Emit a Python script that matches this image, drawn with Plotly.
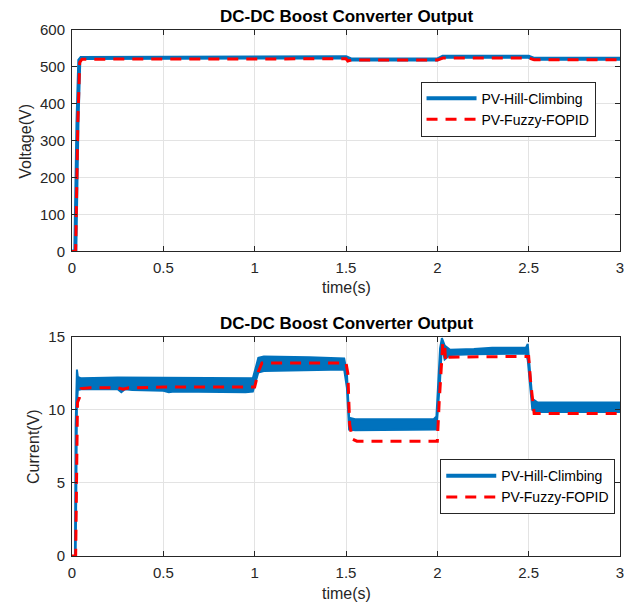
import plotly.graph_objects as go

# ---------------- data ----------------
# Voltage (top panel)
t_volt_hill = [0, 0.018, 0.03, 0.04, 0.05, 1.0, 1.03, 1.5, 1.53, 2.0, 2.03, 2.5, 2.53, 3.0]
volt_hill = [0, 0, 350, 518, 524, 524, 526, 526, 520, 520, 527.5, 527.5, 522, 522]

t_volt_fuzzy = [0, 0.02, 0.032, 0.042, 0.055, 1.0, 1.03, 1.5, 1.51, 1.53, 2.0, 2.03, 2.5, 2.53, 3.0]
volt_fuzzy = [0, 0, 350, 512, 521, 521, 522, 522, 516, 518.5, 518.5, 524, 524, 519.5, 519.5]

# Current (bottom panel) - Hill-Climbing ripple band (upper / lower envelope)
t_cur_hill = [0, 0.016, 0.02, 0.024, 0.027, 0.032, 0.05, 0.25, 0.27, 0.29, 0.33, 0.5, 0.53, 0.56,
              0.95, 0.99, 1.02, 1.05, 1.3, 1.49, 1.505, 1.517, 1.55, 1.98, 1.995, 2.015, 2.025,
              2.04, 2.07, 2.2, 2.3, 2.485, 2.495, 2.51, 2.52, 2.55, 3.0]
cur_hill_upper = [0, 0, 9.0, 12.0, 12.75, 12.25, 12.15, 12.2, 12.2, 12.2, 12.2, 12.2, 12.2, 12.2,
                  12.2, 12.15, 13.55, 13.65, 13.6, 13.5, 12.5, 9.45, 9.35, 9.35, 9.55, 14.2, 14.9,
                  14.4, 14.1, 14.15, 14.25, 14.25, 14.5, 12.0, 10.75, 10.5, 10.5]
cur_hill_lower = [0, 0, 0, 5.0, 10.5, 11.35, 11.4, 11.4, 11.2, 11.4, 11.35, 11.3, 11.2, 11.25,
                  11.2, 11.25, 12.55, 12.65, 12.7, 12.75, 11.5, 8.65, 8.6, 8.6, 8.65, 12.0, 14.4,
                  13.45, 13.75, 13.8, 13.8, 13.85, 13.4, 11.0, 10.0, 9.85, 9.85]

# Current - Fuzzy-FOPID
t_cur_fuzzy = [0, 0.02, 0.022, 0.03, 0.04, 0.05, 0.1, 0.25, 0.28, 0.31, 0.5, 1.0, 1.02, 1.04,
               1.5, 1.51, 1.52, 1.535, 1.56, 2.0, 2.01, 2.03, 2.04, 2.045, 2.06, 2.5, 2.51, 2.53, 3.0]
cur_fuzzy = [0, 0, 2, 10.5, 10.8, 11.45, 11.5, 11.5, 11.4, 11.5, 11.55, 11.55, 12.6, 13.2,
             13.2, 12.5, 9.0, 8.0, 7.85, 7.85, 10.5, 14.6, 14.5, 13.3, 13.6, 13.65, 12.0, 9.75, 9.75]

x_ticks = [0, 0.5, 1, 1.5, 2, 2.5, 3]
volt_ticks = [0, 100, 200, 300, 400, 500, 600]
cur_ticks = [0, 5, 10, 15]

title_text = "DC-DC Boost Converter Output"
name_hill = "PV-Hill-Climbing"
name_fuzzy = "PV-Fuzzy-FOPID"

# ---------------- styling ----------------
BLUE = "#0072BD"
RED = "#FF0000"
AX = "#262626"
GRID = "#e3e3e3"
FONT = "Liberation Sans, Arial, sans-serif"
DASH = "11px,8px"

fig = go.Figure()

# top panel
fig.add_trace(go.Scatter(x=t_volt_hill, y=volt_hill, mode="lines", name=name_hill,
                         line=dict(color=BLUE, width=4), xaxis="x", yaxis="y", legend="legend"))
fig.add_trace(go.Scatter(x=t_volt_fuzzy, y=volt_fuzzy, mode="lines", name=name_fuzzy,
                         line=dict(color=RED, width=3, dash=DASH), xaxis="x", yaxis="y",
                         legend="legend"))

# bottom panel
fig.add_trace(go.Scatter(x=[None], y=[None], mode="lines", name=name_hill,
                         line=dict(color=BLUE, width=4), xaxis="x2", yaxis="y2", legend="legend2"))
fig.add_trace(go.Scatter(x=t_cur_hill, y=cur_hill_lower, mode="lines", showlegend=False,
                         line=dict(color=BLUE, width=2), xaxis="x2", yaxis="y2"))
fig.add_trace(go.Scatter(x=t_cur_hill, y=cur_hill_upper, mode="lines", showlegend=False,
                         line=dict(color=BLUE, width=2), fill="tonexty", fillcolor=BLUE,
                         xaxis="x2", yaxis="y2"))
fig.add_trace(go.Scatter(x=t_cur_fuzzy, y=cur_fuzzy, mode="lines", name=name_fuzzy,
                         line=dict(color=RED, width=3, dash=DASH), xaxis="x2", yaxis="y2",
                         legend="legend2"))

axis_common = dict(showline=True, linecolor=AX, linewidth=1, mirror="allticks",
                   ticks="inside", ticklen=5, tickcolor=AX, tickwidth=1,
                   showgrid=True, gridcolor=GRID, gridwidth=1, zeroline=False,
                   ticklabelstandoff=3,
                   tickfont=dict(family=FONT, size=15, color=AX))

legend_common = dict(bgcolor="white", bordercolor=AX, borderwidth=1,
                     font=dict(family=FONT, size=14, color="black"),
                     xanchor="left", yanchor="top", itemwidth=50, tracegroupgap=0,
                     traceorder="normal")

# the page body adds an 8px offset; margins compensate so the plot area sits at x 72-620, y 30-556
fig.update_layout(
    width=632, height=603,
    margin=dict(l=64, r=20, t=22, b=55),
    paper_bgcolor="white", plot_bgcolor="white",
    xaxis=dict(domain=[0, 1], range=[0, 3], anchor="y", tickvals=x_ticks, **axis_common),
    yaxis=dict(domain=[0.579, 1], range=[0, 600], anchor="x", tickvals=volt_ticks, **axis_common),
    xaxis2=dict(domain=[0, 1], range=[0, 3], anchor="y2", tickvals=x_ticks, **axis_common),
    yaxis2=dict(domain=[0, 0.417], range=[0, 15], anchor="x2", tickvals=cur_ticks, **axis_common),
    legend=dict(x=0.636, y=0.902, **legend_common),
    legend2=dict(x=0.672, y=0.184, **legend_common),
    showlegend=True,
)

ann_font = dict(family=FONT, size=16, color=AX)
title_font = dict(family=FONT, size=17, color="black")
annotations = [
    dict(text="<b>" + title_text + "</b>", x=0.5, y=1.025, xref="paper", yref="paper",
         xanchor="center", yanchor="middle", showarrow=False, font=title_font),
    dict(text="<b>" + title_text + "</b>", x=0.5, y=0.4427, xref="paper", yref="paper",
         xanchor="center", yanchor="middle", showarrow=False, font=title_font),
    dict(text="Voltage(V)", x=-0.084, y=0.7894, xref="paper", yref="paper", textangle=-90,
         xanchor="center", yanchor="middle", showarrow=False, font=ann_font),
    dict(text="Current(V)", x=-0.0716, y=0.2087, xref="paper", yref="paper", textangle=-90,
         xanchor="center", yanchor="middle", showarrow=False, font=ann_font),
    dict(text="time(s)", x=0.5, y=(556 - 288) / 525.7, xref="paper", yref="paper",
         xanchor="center", yanchor="middle", showarrow=False, font=ann_font),
    dict(text="time(s)", x=0.5, y=(556 - 593) / 525.7, xref="paper", yref="paper",
         xanchor="center", yanchor="middle", showarrow=False, font=ann_font),
]
fig.update_layout(annotations=annotations)

fig.write_html("out.html")
